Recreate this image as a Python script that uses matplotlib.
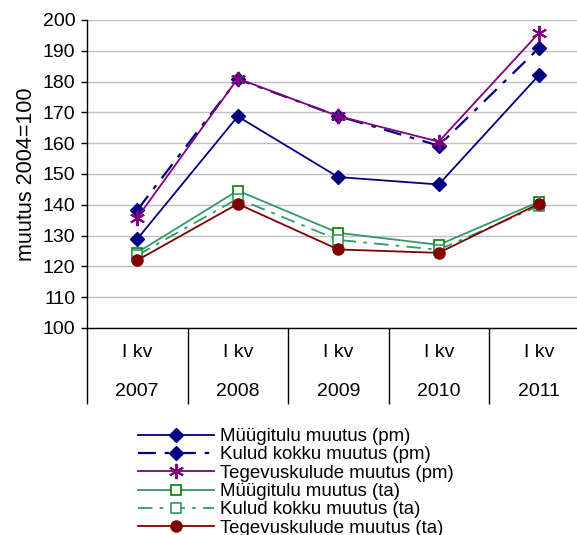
import matplotlib.pyplot as plt
from matplotlib import rcParams
import matplotlib.transforms as mtransforms

rcParams['font.family'] = ['Liberation Sans', 'DejaVu Sans']
rcParams['font.size'] = 14

years = ["2007", "2008", "2009", "2010", "2011"]
quarter = "I kv"

myygitulu_pm = [128.9, 168.7, 149.0, 146.6, 182.2]
kulud_pm = [138.3, 180.8, 168.8, 159.2, 191.0]
tegevus_pm = [135.8, 181.0, 168.8, 160.5, 195.9]
myygitulu_ta = [124.5, 144.6, 130.9, 127.0, 141.0]
kulud_ta = [123.6, 142.0, 128.6, 125.4, 139.7]
tegevus_ta = [122.0, 140.3, 125.5, 124.4, 140.4]

labels = [
    "Müügitulu muutus (pm)",
    "Kulud kokku muutus (pm)",
    "Tegevuskulude muutus (pm)",
    "Müügitulu muutus (ta)",
    "Kulud kokku muutus (ta)",
    "Tegevuskulude muutus (ta)",
]

fig = plt.figure(figsize=(5.77, 5.35), dpi=100)
ax = fig.add_axes([87 / 577, 1 - 328 / 535, 502.5 / 577, 308 / 535])

x = list(range(1, len(years) + 1))
navy = "#000080"
green = "#339966"

ax.plot(x, myygitulu_pm, color=navy, lw=1.3, marker="D", ms=7, mfc=navy, mec=navy, label=labels[0])
ax.plot(x, kulud_pm, color=navy, lw=1.6, ls=(0, (8, 4, 2, 4)), marker="D", ms=7, mfc=navy, mec=navy, label=labels[1])
ax.plot(x, tegevus_pm, color="#800080", lw=1.3, marker=(6, 2, 0), ms=11, mew=1.4, label=labels[2])
ax.plot(x, myygitulu_ta, color=green, lw=1.3, marker="s", ms=7, mfc="white", mec="#008000", mew=1.2, label=labels[3])
ax.plot(x, kulud_ta, color=green, lw=1.3, ls=(0, (8, 4, 2, 4)), marker="s", ms=7, mfc="white", mec=green, mew=1.2, label=labels[4])
ax.plot(x, tegevus_ta, color="#800000", lw=1.3, marker="o", ms=8, mfc="#800000", mec="#800000", label=labels[5])

ax.set_xlim(0.5, len(years) + 0.5)
ax.set_ylim(100, 200)
ax.set_yticks(range(100, 201, 10))
ax.yaxis.grid(True, color="#c0c0c0", lw=1)
ax.set_axisbelow(True)
ax.tick_params(axis="y", direction="out", length=4.5, width=1, pad=4)

# category separators drawn as long x ticks
ax.set_xticks([i + 0.5 for i in range(len(years) + 1)])
ax.set_xticklabels([])
ax.tick_params(axis="x", direction="out", length=55, width=1)

trans = mtransforms.blended_transform_factory(ax.transData, ax.transAxes)
for xi, yr in zip(x, years):
    ax.text(xi, -0.08, quarter, transform=trans, ha="center", va="center")
    ax.text(xi, -0.205, yr, transform=trans, ha="center", va="center")

for s in ["top", "right"]:
    ax.spines[s].set_visible(False)
ax.spines["left"].set_linewidth(1)
ax.spines["bottom"].set_linewidth(1)

ax.set_ylabel("muutus 2004=100", fontsize=15.5, labelpad=4)

fig.legend(loc="upper left", bbox_to_anchor=(138 / 577, 1 - 428 / 535), frameon=False,
           borderpad=0, borderaxespad=0, handlelength=4.1, handletextpad=0.3,
           labelspacing=0.07, fontsize=13.4)

fig.savefig("out.png", dpi=100)
